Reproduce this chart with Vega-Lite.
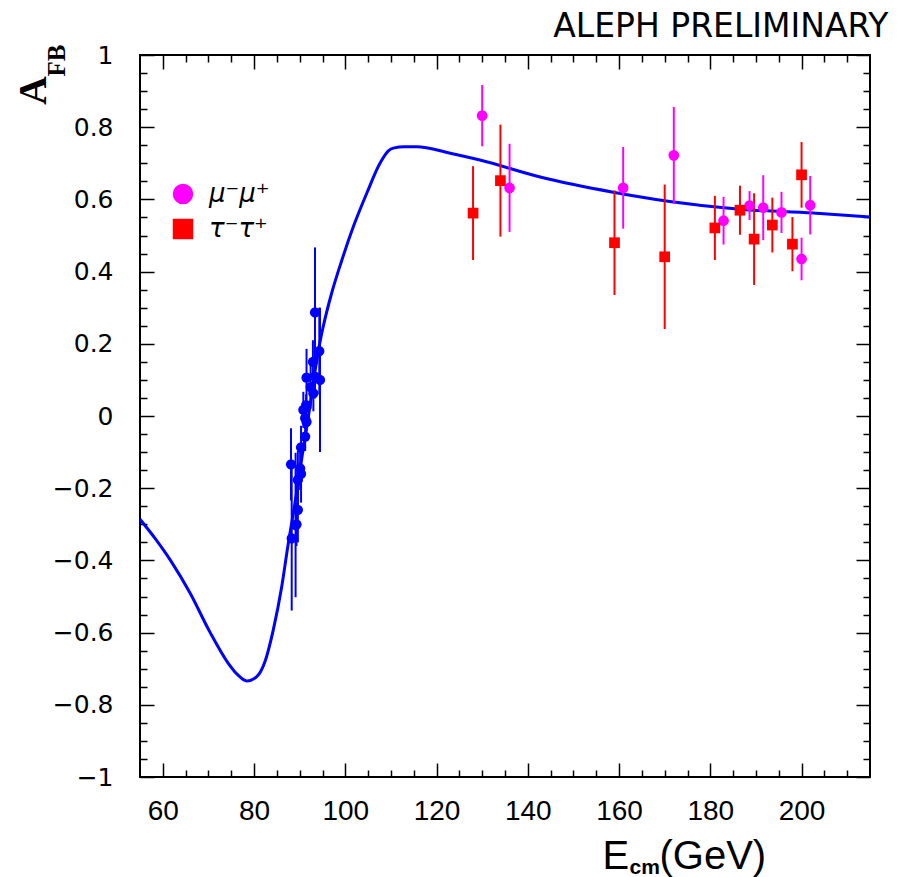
{
  "$schema": "https://vega.github.io/schema/vega-lite/v6.json",
  "width": 730,
  "height": 722,
  "autosize": "none",
  "padding": {"left": 140, "top": 55, "right": 47, "bottom": 100},
  "background": "white",
  "config": {
    "view": {"stroke": "black", "strokeWidth": 2},
    "axis": {"domain": false, "grid": false, "tickColor": "#000000", "tickWidth": 1.5, "labelColor": "black", "titleColor": "black"}
  },
  "datasets": {
    "curve": [
      {"E": 55, "A": -0.286}, {"E": 58.3, "A": -0.339}, {"E": 61.9, "A": -0.404}, {"E": 66.0, "A": -0.491},
      {"E": 70.3, "A": -0.598}, {"E": 74.35, "A": -0.685}, {"E": 76.5, "A": -0.718}, {"E": 78.4, "A": -0.734},
      {"E": 80.6, "A": -0.722}, {"E": 82.4, "A": -0.680}, {"E": 84.2, "A": -0.593}, {"E": 86.06, "A": -0.473},
      {"E": 87.5, "A": -0.353}, {"E": 88.6, "A": -0.27}, {"E": 89.6, "A": -0.19}, {"E": 90.6, "A": -0.105},
      {"E": 91.5, "A": -0.035}, {"E": 92.4, "A": 0.04}, {"E": 93.3, "A": 0.12}, {"E": 94.3, "A": 0.195},
      {"E": 95.2, "A": 0.25}, {"E": 97.0, "A": 0.34}, {"E": 99.2, "A": 0.43}, {"E": 101.75, "A": 0.524},
      {"E": 104.7, "A": 0.617}, {"E": 107.6, "A": 0.700}, {"E": 109.5, "A": 0.735}, {"E": 110.5, "A": 0.742},
      {"E": 113, "A": 0.746}, {"E": 115.6, "A": 0.746}, {"E": 123.0, "A": 0.728}, {"E": 129.5, "A": 0.709},
      {"E": 142.7, "A": 0.662}, {"E": 158.7, "A": 0.620}, {"E": 175.5, "A": 0.587}, {"E": 186.5, "A": 0.573},
      {"E": 202.5, "A": 0.562}, {"E": 215, "A": 0.551}
    ],
    "zpole": [
      {"E": 88.1, "A": -0.134, "lo": -0.234, "hi": -0.034},
      {"E": 88.25, "A": -0.339, "lo": -0.539, "hi": -0.139},
      {"E": 89.1, "A": -0.302, "lo": -0.502, "hi": -0.102},
      {"E": 89.3, "A": -0.30, "lo": -0.36, "hi": -0.24},
      {"E": 89.6, "A": -0.26, "lo": -0.35, "hi": -0.17},
      {"E": 89.6, "A": -0.177, "lo": -0.257, "hi": -0.097},
      {"E": 90.1, "A": -0.145, "lo": -0.205, "hi": -0.085},
      {"E": 90.3, "A": -0.16, "lo": -0.24, "hi": -0.08},
      {"E": 90.3, "A": -0.087, "lo": -0.147, "hi": -0.027},
      {"E": 90.8, "A": 0.017, "lo": -0.033, "hi": 0.067},
      {"E": 91.2, "A": -0.006, "lo": -0.036, "hi": 0.024},
      {"E": 91.2, "A": -0.057, "lo": -0.097, "hi": -0.017},
      {"E": 91.4, "A": 0.03, "lo": 0.0, "hi": 0.06},
      {"E": 91.5, "A": -0.016, "lo": -0.036, "hi": 0.004},
      {"E": 91.5, "A": 0.106, "lo": 0.026, "hi": 0.186},
      {"E": 92.4, "A": 0.08, "lo": 0.02, "hi": 0.14},
      {"E": 93.0, "A": 0.063, "lo": 0.013, "hi": 0.113},
      {"E": 93.36, "A": 0.109, "lo": 0.049, "hi": 0.169},
      {"E": 93.36, "A": 0.287, "lo": 0.107, "hi": 0.467},
      {"E": 92.9, "A": 0.15, "lo": 0.09, "hi": 0.21},
      {"E": 94.3, "A": 0.18, "lo": 0.06, "hi": 0.30},
      {"E": 94.45, "A": 0.10, "lo": -0.10, "hi": 0.30}
    ],
    "lep2": [
      {"s": "μ⁻μ⁺", "E": 130.0, "A": 0.832, "lo": 0.747, "hi": 0.917},
      {"s": "μ⁻μ⁺", "E": 136.0, "A": 0.632, "lo": 0.510, "hi": 0.754},
      {"s": "μ⁻μ⁺", "E": 160.9, "A": 0.632, "lo": 0.519, "hi": 0.745},
      {"s": "μ⁻μ⁺", "E": 172.0, "A": 0.722, "lo": 0.588, "hi": 0.856},
      {"s": "μ⁻μ⁺", "E": 182.9, "A": 0.541, "lo": 0.475, "hi": 0.607},
      {"s": "μ⁻μ⁺", "E": 188.6, "A": 0.583, "lo": 0.543, "hi": 0.623},
      {"s": "μ⁻μ⁺", "E": 191.6, "A": 0.577, "lo": 0.487, "hi": 0.667},
      {"s": "μ⁻μ⁺", "E": 195.6, "A": 0.564, "lo": 0.507, "hi": 0.621},
      {"s": "μ⁻μ⁺", "E": 200.0, "A": 0.435, "lo": 0.376, "hi": 0.494},
      {"s": "μ⁻μ⁺", "E": 201.9, "A": 0.584, "lo": 0.503, "hi": 0.665},
      {"s": "τ⁻τ⁺", "E": 128.0, "A": 0.562, "lo": 0.432, "hi": 0.692},
      {"s": "τ⁻τ⁺", "E": 134.0, "A": 0.652, "lo": 0.497, "hi": 0.807},
      {"s": "τ⁻τ⁺", "E": 159.0, "A": 0.480, "lo": 0.335, "hi": 0.625},
      {"s": "τ⁻τ⁺", "E": 170.0, "A": 0.441, "lo": 0.241, "hi": 0.641},
      {"s": "τ⁻τ⁺", "E": 181.0, "A": 0.521, "lo": 0.432, "hi": 0.610},
      {"s": "τ⁻τ⁺", "E": 186.5, "A": 0.570, "lo": 0.502, "hi": 0.638},
      {"s": "τ⁻τ⁺", "E": 189.6, "A": 0.490, "lo": 0.363, "hi": 0.617},
      {"s": "τ⁻τ⁺", "E": 193.6, "A": 0.529, "lo": 0.453, "hi": 0.605},
      {"s": "τ⁻τ⁺", "E": 198.0, "A": 0.476, "lo": 0.401, "hi": 0.551},
      {"s": "τ⁻τ⁺", "E": 200.0, "A": 0.668, "lo": 0.577, "hi": 0.759}
    ]
  },
  "resolve": {"axis": {"x": "independent", "y": "independent"}},
  "layer": [
    {
      "data": {"name": "curve"},
      "mark": {"type": "line", "color": "#0000ff", "strokeWidth": 3, "interpolate": "monotone", "clip": true},
      "encoding": {
        "x": {"field": "E", "type": "quantitative", "scale": {"domain": [55, 215], "nice": false, "zero": false},
          "axis": {"orient": "bottom", "values": [60, 80, 100, 120, 140, 160, 180, 200], "tickSize": -14,
            "labelPadding": 34, "labelFont": "Liberation Sans", "labelFontSize": 28, "format": "d",
            "title": "E", "titleFont": "Liberation Sans", "titleFontSize": 40, "titleFontWeight": "normal",
            "titleX": 462, "titleY": 91, "titleAlign": "left", "titleBaseline": "alphabetic", "titleAngle": 0}},
        "y": {"field": "A", "type": "quantitative", "scale": {"domain": [-1, 1], "nice": false, "zero": false},
          "axis": {"orient": "left", "values": [-1, -0.8, -0.6, -0.4, -0.2, 0, 0.2, 0.4, 0.6, 0.8, 1], "tickSize": -14,
            "labelPadding": 41, "labelFont": "DejaVu Sans", "labelFontSize": 25, "format": "~g",
            "title": "A", "titleFont": "Liberation Serif", "titleFontSize": 40, "titleFontWeight": "bold",
            "titleX": -107, "titleY": 35, "titleAlign": "center", "titleBaseline": "middle", "titleAngle": -90}}
      }
    },
    {
      "data": {"name": "curve"},
      "mark": {"type": "point", "opacity": 0},
      "encoding": {
        "x": {"field": "E", "type": "quantitative", "scale": {"domain": [55, 215], "nice": false, "zero": false},
          "axis": {"orient": "bottom", "values": [65, 70, 75, 85, 90, 95, 105, 110, 115, 125, 130, 135, 145, 150, 155, 165, 170, 175, 185, 190, 195, 205, 210],
            "tickSize": -7, "labels": false,
            "title": "(GeV)", "titleFont": "Liberation Sans", "titleFontSize": 40, "titleFontWeight": "normal",
            "titleX": 519, "titleY": 91, "titleAlign": "left", "titleBaseline": "alphabetic", "titleAngle": 0}},
        "y": {"field": "A", "type": "quantitative", "scale": {"domain": [-1, 1], "nice": false, "zero": false},
          "axis": {"orient": "left", "values": [-0.95, -0.9, -0.85, -0.75, -0.7, -0.65, -0.55, -0.5, -0.45, -0.35, -0.3, -0.25, -0.15, -0.1, -0.05, 0.05, 0.1, 0.15, 0.25, 0.3, 0.35, 0.45, 0.5, 0.55, 0.65, 0.7, 0.75, 0.85, 0.9, 0.95],
            "tickSize": -7, "labels": false, "title": null}}
      }
    },
    {
      "data": {"name": "curve"},
      "mark": {"type": "point", "opacity": 0},
      "encoding": {
        "x": {"field": "E", "type": "quantitative", "scale": {"domain": [55, 215], "nice": false, "zero": false},
          "axis": {"orient": "top", "values": [60, 80, 100, 120, 140, 160, 180, 200], "tickSize": -14, "labels": false,
            "title": "ALEPH PRELIMINARY", "titleFont": "DejaVu Sans", "titleFontSize": 33, "titleFontWeight": "normal",
            "titleX": 748, "titleY": -19, "titleAlign": "right", "titleBaseline": "alphabetic"}},
        "y": {"field": "A", "type": "quantitative", "scale": {"domain": [-1, 1], "nice": false, "zero": false},
          "axis": {"orient": "right", "values": [-1, -0.8, -0.6, -0.4, -0.2, 0, 0.2, 0.4, 0.6, 0.8, 1], "tickSize": -14, "labels": false, "title": null}}
      }
    },
    {
      "data": {"name": "curve"},
      "mark": {"type": "point", "opacity": 0},
      "encoding": {
        "x": {"field": "E", "type": "quantitative", "scale": {"domain": [55, 215], "nice": false, "zero": false},
          "axis": {"orient": "top", "values": [65, 70, 75, 85, 90, 95, 105, 110, 115, 125, 130, 135, 145, 150, 155, 165, 170, 175, 185, 190, 195, 205, 210],
            "tickSize": -7, "labels": false, "title": null}},
        "y": {"field": "A", "type": "quantitative", "scale": {"domain": [-1, 1], "nice": false, "zero": false},
          "axis": {"orient": "right", "values": [-0.95, -0.9, -0.85, -0.75, -0.7, -0.65, -0.55, -0.5, -0.45, -0.35, -0.3, -0.25, -0.15, -0.1, -0.05, 0.05, 0.1, 0.15, 0.25, 0.3, 0.35, 0.45, 0.5, 0.55, 0.65, 0.7, 0.75, 0.85, 0.9, 0.95],
            "tickSize": -7, "labels": false, "title": null}}
      }
    },
    {
      "data": {"name": "curve"},
      "mark": {"type": "point", "opacity": 0},
      "encoding": {
        "x": {"field": "E", "type": "quantitative", "scale": {"domain": [55, 215], "nice": false, "zero": false},
          "axis": {"orient": "bottom", "ticks": false, "labels": false,
            "title": "cm", "titleFont": "Liberation Sans", "titleFontSize": 21, "titleFontWeight": "bold",
            "titleX": 489, "titleY": 96, "titleAlign": "left", "titleBaseline": "alphabetic", "titleAngle": 0}},
        "y": {"field": "A", "type": "quantitative", "scale": {"domain": [-1, 1], "nice": false, "zero": false},
          "axis": {"orient": "left", "ticks": false, "labels": false,
            "title": "FB", "titleFont": "Liberation Serif", "titleFontSize": 25, "titleFontWeight": "bold",
            "titleX": -84, "titleY": 5, "titleAlign": "center", "titleBaseline": "middle", "titleAngle": -90}}
      }
    },
    {
      "data": {"name": "zpole"},
      "mark": {"type": "rule", "color": "#0000ff", "strokeWidth": 2},
      "encoding": {
        "x": {"field": "E", "type": "quantitative", "scale": {"domain": [55, 215], "nice": false, "zero": false}, "axis": null},
        "y": {"field": "lo", "type": "quantitative", "scale": {"domain": [-1, 1], "nice": false, "zero": false}, "axis": null},
        "y2": {"field": "hi"}
      }
    },
    {
      "data": {"name": "zpole"},
      "mark": {"type": "point", "shape": "circle", "filled": true, "opacity": 1, "color": "#0000ff", "size": 105},
      "encoding": {
        "x": {"field": "E", "type": "quantitative", "scale": {"domain": [55, 215], "nice": false, "zero": false}, "axis": null},
        "y": {"field": "A", "type": "quantitative", "scale": {"domain": [-1, 1], "nice": false, "zero": false}, "axis": null}
      }
    },
    {
      "data": {"name": "lep2"},
      "transform": [{"filter": "datum.s == 'μ⁻μ⁺'"}],
      "mark": {"type": "rule", "color": "#ff00ff", "strokeWidth": 2},
      "encoding": {
        "x": {"field": "E", "type": "quantitative", "scale": {"domain": [55, 215], "nice": false, "zero": false}, "axis": null},
        "y": {"field": "lo", "type": "quantitative", "scale": {"domain": [-1, 1], "nice": false, "zero": false}, "axis": null},
        "y2": {"field": "hi"}
      }
    },
    {
      "data": {"name": "lep2"},
      "transform": [{"filter": "datum.s == 'τ⁻τ⁺'"}],
      "mark": {"type": "rule", "color": "#ff0000", "strokeWidth": 2},
      "encoding": {
        "x": {"field": "E", "type": "quantitative", "scale": {"domain": [55, 215], "nice": false, "zero": false}, "axis": null},
        "y": {"field": "lo", "type": "quantitative", "scale": {"domain": [-1, 1], "nice": false, "zero": false}, "axis": null},
        "y2": {"field": "hi"}
      }
    },
    {
      "data": {"name": "lep2"},
      "mark": {"type": "point", "filled": true, "opacity": 1, "size": 115, "strokeWidth": 0},
      "encoding": {
        "x": {"field": "E", "type": "quantitative", "scale": {"domain": [55, 215], "nice": false, "zero": false}, "axis": null},
        "y": {"field": "A", "type": "quantitative", "scale": {"domain": [-1, 1], "nice": false, "zero": false}, "axis": null},
        "color": {"field": "s", "type": "nominal", "scale": {"domain": ["μ⁻μ⁺", "τ⁻τ⁺"], "range": ["#ff00ff", "#ff0000"]},
          "legend": {"orient": "none", "legendX": 30, "legendY": 126, "title": null, "symbolSize": 420, "symbolStrokeWidth": 0,
            "labelFont": "DejaVu Sans", "labelFontStyle": "italic", "labelFontSize": 26, "labelOffset": 13, "rowPadding": 9, "padding": 0,
            "encode": {"labels": {"update": {"fill": {"signal": "datum.label == 'μ⁻μ⁺' ? '#ff00ff' : '#ff0000'"}}}}}},
        "shape": {"field": "s", "type": "nominal", "scale": {"domain": ["μ⁻μ⁺", "τ⁻τ⁺"], "range": ["circle", "square"]},
          "legend": {"orient": "none", "legendX": 30, "legendY": 126, "title": null, "symbolSize": 420, "symbolStrokeWidth": 0,
            "labelFont": "DejaVu Sans", "labelFontStyle": "italic", "labelFontSize": 26, "labelOffset": 13, "rowPadding": 9, "padding": 0,
            "encode": {"labels": {"update": {"fill": {"signal": "datum.label == 'μ⁻μ⁺' ? '#ff00ff' : '#ff0000'"}}}}}}
      }
    }
  ]
}
